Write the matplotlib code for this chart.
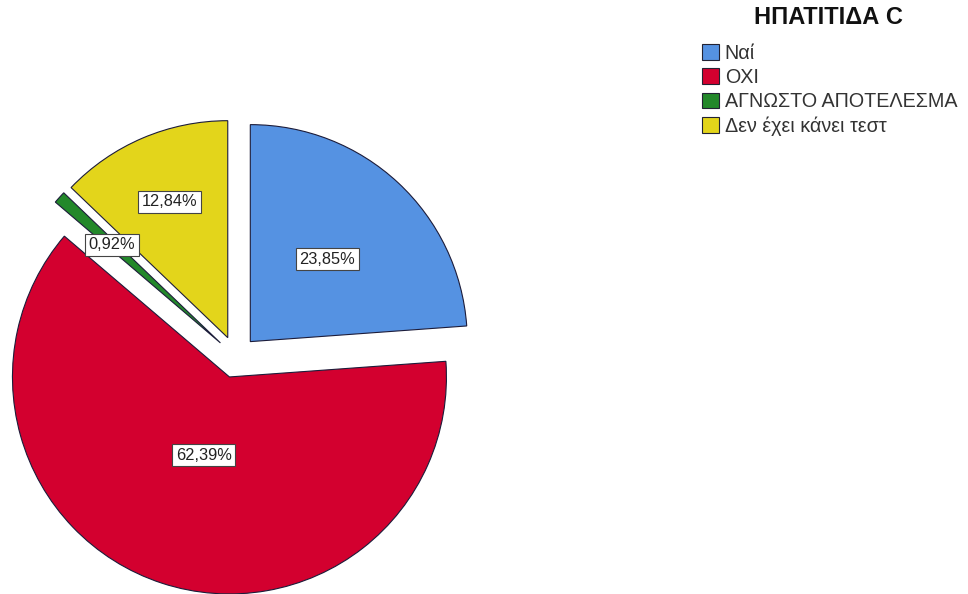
import numpy as np
import matplotlib.pyplot as plt

plt.rcParams['font.family'] = ['Liberation Sans', 'DejaVu Sans']

# data
labels = ['Ναί', 'ΟΧΙ', 'ΑΓΝΩΣΤΟ ΑΠΟΤΕΛΕΣΜΑ', 'Δεν έχει κάνει τεστ']
percents = [23.85, 62.39, 0.92, 12.84]
colors = ['#5592E2', '#D3002F', '#23882A', '#E3D51B']
title = 'ΗΠΑΤΙΤΙΔΑ C'

# label distance (fraction of radius) along each slice's bisector
label_dist = [0.52, 0.38, 0.675, 0.68]

W, H = 968, 594
fig = plt.figure(figsize=(W / 100, H / 100), dpi=100)
ax = fig.add_axes([0, 0, 1, 1])

R = 217
cx, cy = 236, H - 357
wedges, _ = ax.pie(percents, colors=colors, startangle=90, counterclock=False,
                   radius=R, center=(cx, cy), explode=[21] * 4,
                   wedgeprops=dict(edgecolor='#1c1c3a', linewidth=0.8))

for w, p, d in zip(wedges, percents, label_dist):
    th = np.deg2rad((w.theta1 + w.theta2) / 2)
    x0, y0 = w.center
    ax.text(x0 + d * R * np.cos(th), y0 + d * R * np.sin(th),
            f'{p:.2f}%'.replace('.', ','), ha='center', va='center',
            fontsize=11.8, color='#222222',
            bbox=dict(boxstyle='square,pad=0.22', fc='white', ec='#444444', lw=0.8))

ax.set_xlim(0, W)
ax.set_ylim(0, H)
ax.set_aspect('equal')
ax.axis('off')

# legend title drawn separately so the gap to the entries can match
fig.text(828 / W, 1 - 18 / H, title, ha='center', va='center',
         fontsize=17, fontweight='bold', color='#111111')

leg = ax.legend(wedges, labels, loc='upper left',
                bbox_to_anchor=(702 / W, 1 - 44 / H), frameon=False,
                fontsize=14.2, handlelength=0.85, handleheight=0.85,
                handletextpad=0.3, labelspacing=0.26, borderpad=0,
                borderaxespad=0)
for h in leg.legend_handles:
    h.set_edgecolor('#222233')
    h.set_linewidth(0.8)
for t in leg.get_texts():
    t.set_color('#333333')

fig.savefig('out.png', dpi=100)
